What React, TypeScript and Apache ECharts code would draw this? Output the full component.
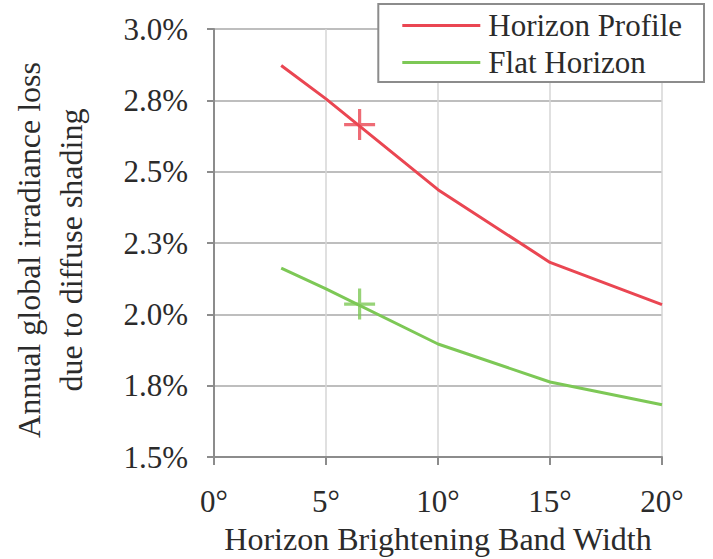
import React, { useEffect, useRef } from "react";
import * as echarts from "echarts";

const xValues = [3, 5, 10, 15, 20];
const horizonProfile = [2.872, 2.755, 2.437, 2.182, 2.034];
const flatHorizon = [2.162, 2.089, 1.896, 1.763, 1.683];
const markerX = 6.5;
const horizonProfileMarker = 2.665;
const flatHorizonMarker = 2.036;
const yTickValues = [1.5, 1.75, 2.0, 2.25, 2.5, 2.75, 3.0];
const yTickLabels = ["1.5%", "1.8%", "2.0%", "2.3%", "2.5%", "2.8%", "3.0%"];
const xTickLabels = ["0°", "5°", "10°", "15°", "20°"];

const FONT = "Liberation Serif";
const RED = "#EA4652";
const GREEN = "#7DC856";
const PLUS = "path://M-1.6,-15.5h3.2v31h-3.2z M-15.5,-1.6h31v3.2h-31z";

export default function App() {
  const ref = useRef<HTMLDivElement>(null);
  useEffect(() => {
    if (!ref.current) return;
    const chart = echarts.init(ref.current, undefined, { renderer: "svg" });
    chart.setOption({
      animation: false,
      backgroundColor: "#ffffff",
      textStyle: { fontFamily: FONT, color: "#2b2b2b" },
      grid: { left: 214, right: 51, top: 29, bottom: 102, containLabel: false, outerBoundsMode: "none" },
      legend: {
        data: ["Horizon Profile", "Flat Horizon"],
        orient: "vertical",
        right: 9,
        top: 4,
        padding: [6, 22, 4, 24],
        itemGap: 6,
        itemWidth: 78,
        itemHeight: 3,
        icon: "rect",
        borderColor: "#8c8c8c",
        borderWidth: 2,
        backgroundColor: "#ffffff",
        textStyle: { fontFamily: FONT, fontSize: 31, color: "#2b2b2b", lineHeight: 30, padding: [0, 0, 0, 3] },
      },
      xAxis: {
        type: "value",
        min: 0,
        max: 20,
        interval: 5,
        name: "Horizon Brightening Band Width",
        nameLocation: "middle",
        nameGap: 66,
        nameTextStyle: { fontFamily: FONT, fontSize: 32, color: "#2b2b2b" },
        axisLine: { lineStyle: { color: "#8c8c8c", width: 2 } },
        axisTick: { show: true, length: 8, lineStyle: { color: "#8c8c8c", width: 2 } },
        axisLabel: {
          fontFamily: FONT,
          fontSize: 31,
          color: "#2b2b2b",
          margin: 29,
          formatter: (v: number) => xTickLabels[Math.round(v / 5)] ?? "",
        },
        splitLine: { show: true, lineStyle: { color: "#d6d6d6", width: 1.5 } },
      },
      yAxis: {
        type: "value",
        min: 1.5,
        max: 3.0,
        interval: 0.25,
        name: "Annual global irradiance loss\ndue to diffuse shading",
        nameLocation: "middle",
        nameRotate: 90,
        nameGap: 122,
        nameTextStyle: { fontFamily: FONT, fontSize: 32, color: "#2b2b2b", lineHeight: 42, padding: [0, 14, 0, 0] },
        axisLine: { show: true, lineStyle: { color: "#8c8c8c", width: 2 } },
        axisTick: { show: true, length: 7, lineStyle: { color: "#8c8c8c", width: 2 } },
        axisLabel: {
          fontFamily: FONT,
          fontSize: 31,
          color: "#2b2b2b",
          margin: 26,
          formatter: (v: number) => {
            const i = yTickValues.findIndex((t) => Math.abs(t - v) < 1e-6);
            return i >= 0 ? yTickLabels[i] : "";
          },
        },
        splitLine: { show: true, lineStyle: { color: "#a8a8a8", width: 1.5 } },
      },
      series: [
        {
          name: "Horizon Profile",
          type: "line",
          data: xValues.map((x, i) => [x, horizonProfile[i]]),
          showSymbol: false,
          symbol: "none",
          lineStyle: { color: RED, width: 3 },
          itemStyle: { color: RED },
        },
        {
          name: "Flat Horizon",
          type: "line",
          data: xValues.map((x, i) => [x, flatHorizon[i]]),
          showSymbol: false,
          symbol: "none",
          lineStyle: { color: GREEN, width: 3 },
          itemStyle: { color: GREEN },
        },
        {
          name: "Horizon Profile marker",
          type: "scatter",
          data: [[markerX, horizonProfileMarker]],
          symbol: PLUS,
          symbolSize: 31,
          itemStyle: { color: RED },
        },
        {
          name: "Flat Horizon marker",
          type: "scatter",
          data: [[markerX, flatHorizonMarker]],
          symbol: PLUS,
          symbolSize: 31,
          itemStyle: { color: GREEN },
        },
      ],
    });
    return () => chart.dispose();
  }, []);
  return <div ref={ref} style={{ width: 713, height: 559, position: "absolute", left: 0, top: 0 }} />;
}
